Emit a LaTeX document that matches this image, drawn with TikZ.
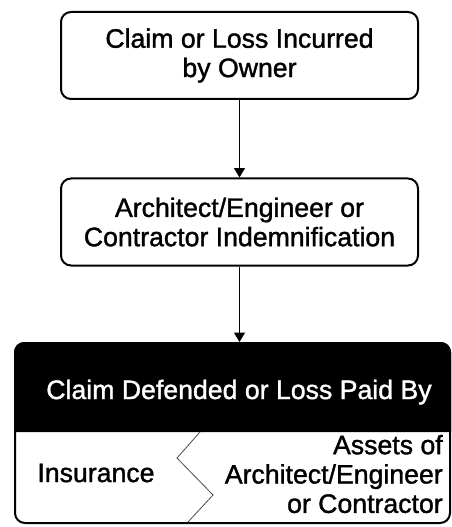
\documentclass[tikz,border=0pt]{standalone}
\usepackage{fontspec}
\setmainfont{Liberation Sans}
\newfontfamily\heavysans[FakeBold=1.3]{Liberation Sans}
\usetikzlibrary{arrows.meta}

\tikzstyle{claimbox} = [
	draw = black,
	fill = white,
	line width = 1.5pt,
	rounded corners = 7.5pt,
	minimum width = 267.75pt,
	minimum height = 65.25pt,
	align = center
	]

\begin{document}
\begin{tikzpicture}[
	x = 0.75pt,
	y = -0.75pt,
	every node/.style = {
	font = \heavysans\fontsize{20}{22}\selectfont,
	inner sep = 0pt
	}
	]

			   \useasboundingbox (0,0) rectangle (452,527);

			   \node[claimbox] (owner) at (239.5,55.5) {Claim or Loss Incurred\\by Owner};
			   \node[claimbox] (indem) at (239.5,222) {Architect/Engineer or\\Contractor Indemnification};
			   \node[claimbox, minimum width=326.25pt, minimum height=135pt] (paid) at (232.5,433) {};

			   \coordinate (split) at (232.5,432);
			   \fill[black] (paid.west |- split) [rounded corners=7.5pt] -- (paid.north west) -- (paid.north east) [sharp corners] -- (paid.east |- split) -- cycle;

			   \node[text=white, anchor=base] (header) at (239,399) {Claim Defended or Loss Paid By};
			   \node(ins) at (96,473) {Insurance};
			   \node[align=right, anchor=east] (assets) at (443,474) {Assets of\\Architect/Engineer\\or Contractor};

			   \draw[gray!60!black, line width=0.6pt] (200,432) -- (177,458) -- (213,495) -- (188,522);

			   \draw[-{Triangle[length=7pt, width=8pt]}, line width=1.4pt] (owner) -- (indem);
			   \draw[-{Triangle[length=7pt, width=8pt]}, line width=1.4pt] (indem.south) -- (indem.south |- paid.north);
		   \end{tikzpicture}
\end{document}
